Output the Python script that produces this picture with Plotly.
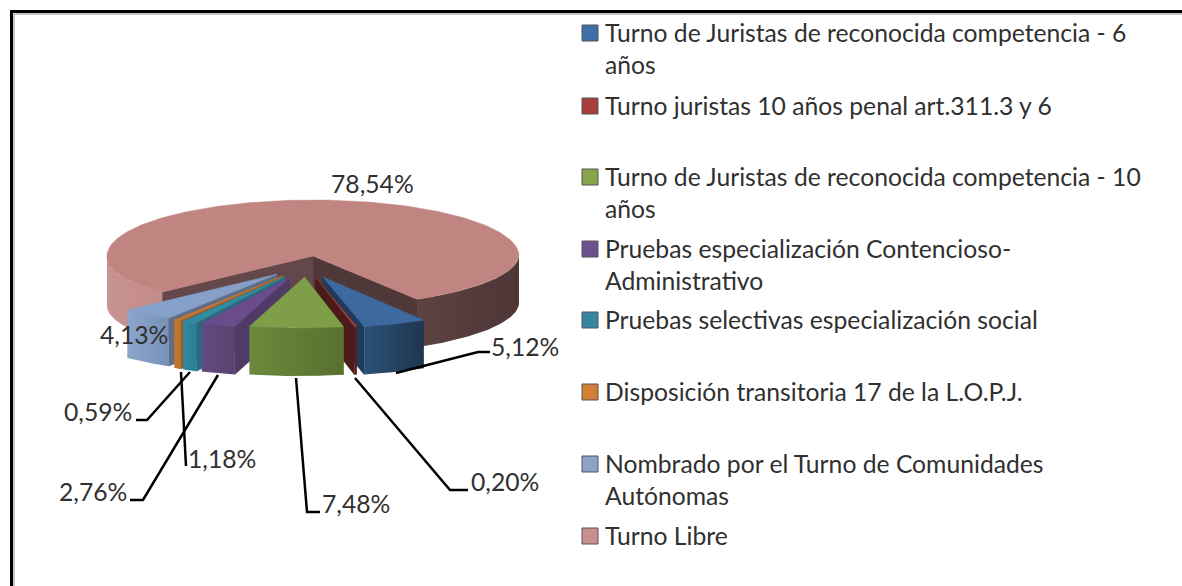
import math
import plotly.graph_objects as go

categories = [
    "Turno de Juristas de reconocida competencia - 6<br>años",
    "Turno juristas 10 años penal art.311.3 y 6",
    "Turno de Juristas de reconocida competencia - 10<br>años",
    "Pruebas especialización Contencioso-<br>Administrativo",
    "Pruebas selectivas especialización social",
    "Disposición transitoria 17 de la L.O.P.J.",
    "Nombrado por el Turno de Comunidades<br>Autónomas",
    "Turno Libre",
]
values = [5.12, 0.20, 7.48, 2.76, 1.18, 0.59, 4.13, 78.54]

top_colors = ["#3d6a9e", "#9c3a36", "#7f9e48", "#6a4b8c", "#2f8ca6", "#c8772f", "#86a1c9", "#c08481"]
legend_colors = ["#3f6fa8", "#a63f3c", "#85a548", "#6d5090", "#34879f", "#d07f35", "#8ba4cb", "#c78e8c"]
front_grad = [
    ("#2c5178", "#1f3550"), ("#5a211e", "#4a1b18"), ("#6b8a3c", "#59702f"), ("#634a80", "#5a4272"),
    ("#2f8ba3", "#2a7d93"), ("#c4772f", "#bb702b"), ("#8ba5cb", "#7791b8"), ("#c99392", "#c08a88"),
]
inner_colors = ["#1f3a5c", "#4a1b18", "#5a7030", "#4f3b66", "#256c80", "#9a5a22", "#5f6d85", "#64474a"]

label_x = [489, 469, 320, 129, 186, 134, 134, 372]
label_y = [346, 481, 503, 491, 458, 411, 334, 183]
label_anchor = ["left", "left", "left", "right", "left", "right", "center", "center"]
leader_x = [[396, 478, 490], [355, 450, 468], [296, 307, 320], [218, 143, 130],
            [181, 186], [190, 147, 136], [], []]
leader_y = [[373, 352, 352], [378, 490, 490], [378, 512, 512], [375, 500, 500],
            [372, 466], [372, 420, 420], [], []]
legend_y = [33, 106, 177, 249, 320, 392, 464, 536]

CX, CY = 313, 256
RX, RY_BACK, RY_FRONT = 206, 56, 51
FRONT_SKEW = 6
SL_R, SL_RATIO = 202, 0.2525
RIM_SHIFT = -6
DEPTH = 48
START = 148.0


def polar(ang, cx, cy, rx, ry_back, ry_front, skew=0):
    s, c = math.sin(math.radians(ang)), math.cos(math.radians(ang))
    return cx + rx * s + (skew * c if c < 0 else 0), cy - (ry_back if c > 0 else ry_front) * c


def arc(a0, a1, cx, cy, rx, ry_back, ry_front, n=60, skew=0):
    return [polar(a0 + (a1 - a0) * i / n, cx, cy, rx, ry_back, ry_front, skew) for i in range(n + 1)]


fig = go.Figure()


def poly(pts, color=None, grad=None, name=""):
    xs = [p[0] for p in pts] + [pts[0][0]]
    ys = [p[1] for p in pts] + [pts[0][1]]
    kw = dict(x=xs, y=ys, mode="lines", fill="toself", showlegend=False,
              name=name, hoverinfo="name")
    if grad:
        kw["fillgradient"] = dict(type="horizontal", colorscale=[[0, grad[0]], [1, grad[1]]])
        kw["line"] = dict(width=0, color=grad[0])
    else:
        kw["fillcolor"] = color
        kw["line"] = dict(width=0.5, color=color)
    fig.add_trace(go.Scatter(**kw))


def down(pts, d=DEPTH):
    return [(x, y + d) for x, y in pts]


# angular spans from the values
spans = []
a = START
for v in values:
    spans.append((a, a + v * 3.6))
    a += v * 3.6

# large slice (not pulled out)
a0, a1 = spans[7]
nm = categories[7].replace("<br>", " ")
centre = (CX, CY)
right_corner = polar(a1, CX, CY, RX, RY_BACK, RY_FRONT, FRONT_SKEW)   # wraps to the start angle
left_corner = polar(a0, CX, CY, RX, RY_BACK, RY_FRONT, FRONT_SKEW)
# outer side walls: right dark part and left pink part
wall_r = arc(90, START, CX, CY, RX, RY_BACK, RY_FRONT, skew=FRONT_SKEW)
poly(wall_r + down(wall_r)[::-1], grad=("#5e4343", "#4e3636"), name=nm)
wall_l = arc(a0, 270, CX, CY, RX, RY_BACK, RY_FRONT, skew=FRONT_SKEW)
poly(wall_l + down(wall_l)[::-1], grad=("#c99392", "#c28b89"), name=nm)
# inner cut walls
poly([centre, right_corner, down([right_corner])[0], down([centre])[0]], color="#4f3838", name=nm)
poly([centre, left_corner, down([left_corner])[0], down([centre])[0]], color="#64474a", name=nm)
poly([centre] + arc(a0, a1, CX, CY, RX, RY_BACK, RY_FRONT, 200, FRONT_SKEW), color=top_colors[7], name=nm)

# pulled-out slices, far ones first
for i in [0, 1, 6, 5, 4, 3, 2]:
    s0, s1 = spans[i]
    mid = (s0 + s1) / 2
    msin, mcos = math.sin(math.radians(mid)), math.cos(math.radians(mid))
    ax = CX - 8 + 46 * msin
    ay = CY + min(21, -23 * mcos)
    apex = (ax, ay)
    rim = arc(s0, s1, ax + RIM_SHIFT, ay, SL_R, SL_R * SL_RATIO, SL_R * SL_RATIO, 24)
    nm = categories[i].replace("<br>", " ")
    # the wall on the side that faces the viewer
    corner = rim[0] if mid > 180 else rim[-1]
    poly([apex, corner, down([corner])[0], down([apex])[0]], color=inner_colors[i], name=nm)
    poly(rim + down(rim)[::-1], grad=front_grad[i], name=nm)
    poly([apex] + rim, color=top_colors[i], name=nm)

# leader lines
for lx, ly in zip(leader_x, leader_y):
    if lx:
        fig.add_trace(go.Scatter(x=lx, y=ly, mode="lines", showlegend=False, hoverinfo="skip",
                                 line=dict(color="#000000", width=2.5)))

# legend squares
fig.add_trace(go.Scatter(
    x=[590] * len(categories), y=legend_y, mode="markers", showlegend=False, hoverinfo="skip",
    marker=dict(symbol="square", size=16, color=legend_colors, line=dict(color="#555555", width=1)),
))

FONT = "Lato"
FS = 24.7
TXT = "#303030"
for cat, y in zip(categories, legend_y):
    fig.add_annotation(x=603, y=y - 17, text=cat, showarrow=False, xanchor="left", yanchor="top",
                       align="left", font=dict(family=FONT, size=FS, color=TXT),
                       xref="x", yref="y")
for v, x, y, anc in zip(values, label_x, label_y, label_anchor):
    fig.add_annotation(x=x, y=y, text=f"{v:.2f}%".replace(".", ","), showarrow=False, xanchor=anc,
                       yanchor="middle", font=dict(family=FONT, size=FS, color=TXT),
                       xref="x", yref="y")

# frame
fig.add_shape(type="rect", xref="x", yref="y", x0=11.5, y0=11.5, x1=1300, y1=700,
              line=dict(color="#000000", width=3))
fig.add_shape(type="line", xref="x", yref="y", x0=14, y0=14, x1=1300, y1=14,
              line=dict(color="#b0b0b0", width=1.5))
fig.add_shape(type="line", xref="x", yref="y", x0=14, y0=14, x1=14, y1=700,
              line=dict(color="#b0b0b0", width=1.5))

fig.update_layout(
    width=1182, height=586, margin=dict(l=0, r=0, t=0, b=0),
    paper_bgcolor="#ffffff", plot_bgcolor="#ffffff", showlegend=False,
    xaxis=dict(range=[0, 1182], visible=False, fixedrange=True),
    yaxis=dict(range=[586, 0], visible=False, fixedrange=True),
)
fig.write_html("out.html", config={"displayModeBar": False},
               post_script="document.body.style.margin='0';")
